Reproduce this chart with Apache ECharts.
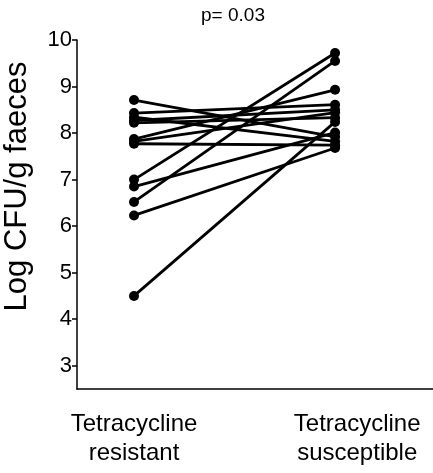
<!DOCTYPE html>
<html><head><meta charset="utf-8">
<script src="https://cdn.jsdelivr.net/npm/echarts@6/dist/echarts.min.js"></script>
<style>html,body{margin:0;padding:0;background:#fff}#c{width:433px;height:473px}</style>
</head><body><div id="c"></div>
<script>
const categories = ["Tetracycline\nresistant", "Tetracycline\nsusceptible"];
const resistant   = [8.71, 8.43, 8.34, 8.27, 8.22, 7.87, 7.82, 7.77, 7.00, 6.85, 6.52, 6.23, 4.50];
const susceptible = [7.92, 8.61, 7.82, 8.50, 8.33, 8.93, 8.44, 7.74, 9.72, 8.01, 9.55, 7.68, 8.24];
const yTicks = [3, 4, 5, 6, 7, 8, 9, 10];
const titleText = "p= 0.03";
const yName = "Log CFU/g faeces";

const chart = echarts.init(document.getElementById('c'));
const series = resistant.map((v, i) => ({
  type: 'line',
  data: [[1, v], [2, susceptible[i]]],
  symbol: 'circle',
  symbolSize: 10,
  lineStyle: { color: '#000', width: 2.8 },
  itemStyle: { color: '#000' },
  silent: true,
  animation: false
}));
const font = 'Liberation Sans, Arial, sans-serif';
chart.setOption({
  animation: false,
  title: { text: titleText, left: 228, top: 1, textAlign: 'center',
    textStyle: { fontFamily: font, fontSize: 19, fontWeight: 'normal', color: '#000' } },
  grid: { left: 77, right: 0, top: 40, bottom: 84, containLabel: false, outerBoundsMode: 'none' },
  xAxis: {
    type: 'value', min: 0.7164, max: 2.487,
    splitLine: { show: false },
    axisLine: { show: true, onZero: false, lineStyle: { color: '#000', width: 1.5 } },
    axisTick: { show: false },
    axisLabel: {
      customValues: [1, 2.11],
      formatter: v => (v < 1.5 ? categories[0] : categories[1]),
      fontFamily: font, fontSize: 24, color: '#000', lineHeight: 29, margin: 21
    }
  },
  yAxis: {
    type: 'value', min: 2.5, max: 10,
    name: yName, nameLocation: 'middle', nameGap: 44,
    nameTextStyle: { fontFamily: font, fontSize: 31, color: '#000', padding: [0, 0, 0, 56] },
    splitLine: { show: false },
    axisLine: { show: true, lineStyle: { color: '#000', width: 1.5 } },
    axisTick: { show: true, customValues: yTicks, length: 5, lineStyle: { color: '#000', width: 1.5 } },
    axisLabel: { customValues: yTicks, fontFamily: font, fontSize: 22, color: '#000', margin: 5 }
  },
  series: series
});
</script></body></html>
